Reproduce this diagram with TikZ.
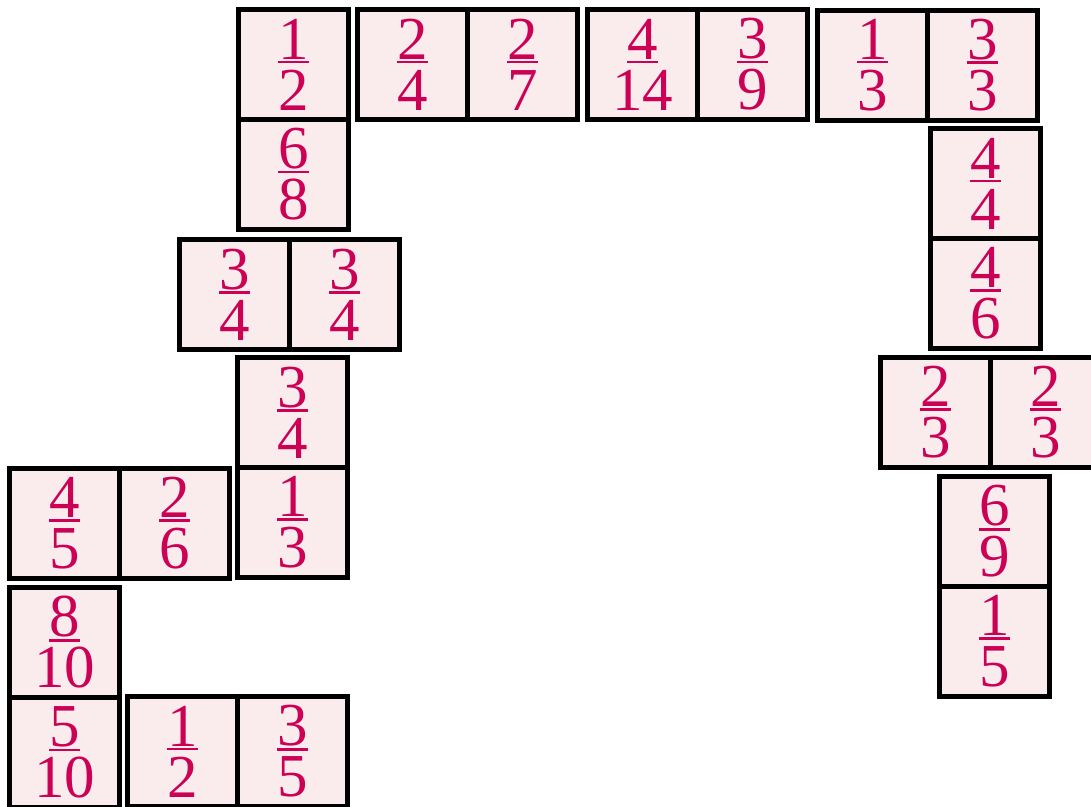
\documentclass[tikz,border=0pt]{standalone}
\usepackage{fontspec}
\setmainfont{Liberation Serif}
\definecolor{tilefill}{RGB}{250,236,236}
\definecolor{numcol}{RGB}{204,0,85}
\newcommand\ubar[1]{\vtop{\hbox{#1}\kern1.5pt\hrule height 2.5pt}}
\newcommand\frc[2]{\ubar{#1}\\#2}
\tikzset{tile/.style={draw=black, line width=5pt, fill=tilefill,
  minimum width=110pt, minimum height=110pt, inner sep=0pt,
  text=numcol, align=center, font=\fontsize{61}{51}\selectfont}}
\begin{document}
\begin{tikzpicture}[x=1pt,y=-1pt]
\useasboundingbox (0,0) rectangle (1091,806);
\clip (0,0) rectangle (1091,806);
% D1 vertical
\node[tile] (d1a) at (293.5,64.5) {\frc{1}{2}};
\node[tile] (d1b) at (293.5,174.5) {\frc{6}{8}};
% D2
\node[tile] (d2a) at (412.5,64.5) {\frc{2}{4}};
\node[tile] (d2b) at (522.5,64.5) {\frc{2}{7}};
% D3
\node[tile] (d3a) at (642.5,64.5) {\frc{4}{14}};
\node[tile] (d3b) at (752.5,64.5) {\frc{3}{9}};
% D4
\node[tile] (d4a) at (872.5,65) {\frc{1}{3}};
\node[tile] (d4b) at (982.5,65) {\frc{3}{3}};
% D5
\node[tile] (d5a) at (985.5,183.5) {\frc{4}{4}};
\node[tile] (d5b) at (985.5,293.5) {\frc{4}{6}};
% D6
\node[tile] (d6a) at (935.5,412.5) {\frc{2}{3}};
\node[tile] (d6b) at (1045.5,412.5) {\frc{2}{3}};
% D7
\node[tile] (d7a) at (994.5,531.5) {\frc{6}{9}};
\node[tile] (d7b) at (994.5,641.5) {\frc{1}{5}};
% D8
\node[tile] (d8a) at (234.5,294.5) {\frc{3}{4}};
\node[tile] (d8b) at (344.5,294.5) {\frc{3}{4}};
% D9
\node[tile] (d9a) at (292.5,412.5) {\frc{3}{4}};
\node[tile] (d9b) at (292.5,522.5) {\frc{1}{3}};
% D10
\node[tile] (d10a) at (64.5,523.5) {\frc{4}{5}};
\node[tile] (d10b) at (174.5,523.5) {\frc{2}{6}};
% D11
\node[tile] (d11a) at (64.5,642.5) {\frc{8}{10}};
\node[tile] (d11b) at (64.5,752.5) {\frc{5}{10}};
% D12
\node[tile] (d12a) at (182.5,751.5) {\frc{1}{2}};
\node[tile] (d12b) at (292.5,751.5) {\frc{3}{5}};
\end{tikzpicture}
\end{document}
